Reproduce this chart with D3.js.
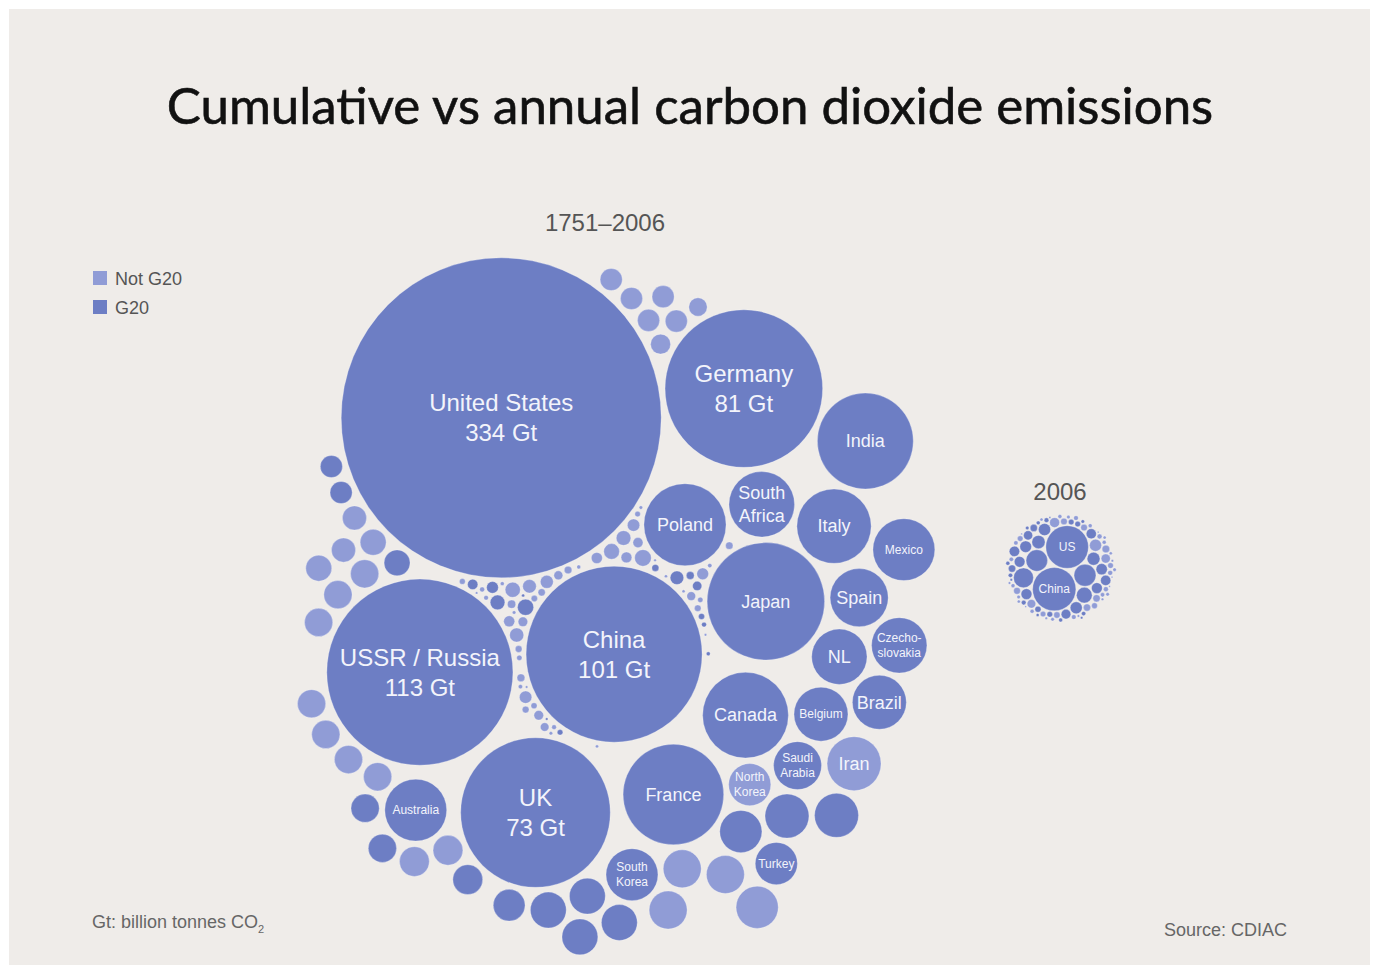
<!DOCTYPE html>
<html>
<head>
<meta charset="utf-8">
<script src="https://cdn.jsdelivr.net/npm/d3@7"></script>
<style>
  body { margin: 0; background: #ffffff; }
  text { font-family: "Liberation Sans", Arial, sans-serif; }
</style>
</head>
<body>
<div id="vis"></div>
<script>
const FRAME_WIDTH = 1376;
const FRAME_HEIGHT = 967;

// cumulative 1751-2006, the labelled countries (Gt CO2)
const bigNames = ["United States", "USSR / Russia", "China", "Germany", "UK", "Japan", "France", "India",
  "Canada", "Poland", "Italy", "South Africa", "Mexico", "Australia", "Spain", "Czechoslovakia", "NL",
  "Brazil", "Belgium", "Iran", "South Korea", "Saudi Arabia", "North Korea", "Turkey"];
const bigLabels = ["United States", "USSR / Russia", "China", "Germany", "UK", "Japan", "France", "India",
  "Canada", "Poland", "Italy", "South\nAfrica", "Mexico", "Australia", "Spain", "Czecho-\nslovakia", "NL",
  "Brazil", "Belgium", "Iran", "South\nKorea", "Saudi\nArabia", "North\nKorea", "Turkey"];
const bigValues = [334, 113, 101, 81, 73, 45, 33, 30, 24, 22, 18, 14, 12.5, 12.5, 11, 10, 10, 9.5, 9.5, 9.5, 8.8, 7.5, 5.8, 5.8];
const bigG20 = [1, 1, 1, 1, 1, 1, 1, 1, 1, 1, 1, 1, 1, 1, 1, 1, 1, 1, 1, 0, 1, 1, 0, 1];

// order the core bubbles are handed to d3.packSiblings
const packOrder = ["China", "UK", "USSR / Russia", "France", "Canada", "South Korea", "United States", "Australia", "Japan"];

// the unlabelled bubbles, sizes
const otherValues = [
  6.3, 6.3, 5.8, 4.2, 4.2, 4.2, 4.2, 3.3, 2.9, 2.6, 2.6, 2.2, 1.6, 1.6,
  5.8, 4.7, 4.7, 4.7, 2.9, 2.9, 2.6, 2.6, 2.6, 2.6, 2.6, 2.6, 2.6, 2.2, 2.2, 1.9, 1.9, 1.6, 1.6, 1.6, 1.6, 1.6, 1.3, 1.1,
  0.9, 0.85, 0.8, 0.75, 0.7, 0.7, 0.65, 0.6, 0.6, 0.55, 0.5, 0.5, 0.45, 0.45, 0.4, 0.4, 0.38, 0.35, 0.33, 0.3,
  0.3, 0.28, 0.26, 0.25, 0.24, 0.22, 0.2, 0.2, 0.19, 0.18, 0.17, 0.16, 0.15, 0.15, 0.14, 0.13, 0.12, 0.12,
  0.11, 0.1, 0.1, 0.09, 0.09, 0.08, 0.08, 0.07, 0.07, 0.06, 0.06, 0.05, 0.05, 0.05, 0.04, 0.04, 0.04,
  0.03, 0.03, 0.03, 0.03, 0.02, 0.02, 0.02, 0.02, 0.02];
const otherG20 = [
  1, 1, 1, 1, 1, 1, 1, 1, 1, 1, 1, 1, 1, 1,
  0, 0, 0, 0, 0, 0, 0, 0, 0, 0, 0, 0, 0, 0, 0, 0, 0, 0, 0, 0, 0, 0, 0, 0,
  0, 1, 0, 0, 1, 0, 0, 0, 1, 0, 0, 0, 1, 0, 0, 0, 0, 1, 0, 0,
  0, 1, 0, 0, 0, 0, 1, 0, 0, 0, 0, 1, 0, 0, 0, 0, 1, 0,
  0, 0, 1, 0, 0, 0, 1, 0, 0, 0, 0, 0, 1, 0, 0, 0, 0,
  0, 1, 0, 0, 0, 0, 1, 0, 0];

// annual 2006 (Gt CO2); only the first two are labelled
const annualNames = ["China", "US"];
const annualValues = [6.1, 5.9, 1.56, 1.5, 1.29, 0.8, 0.57, 0.54, 0.48, 0.47, 0.47, 0.44, 0.41, 0.38, 0.38, 0.37,
  0.35, 0.34, 0.33, 0.32, 0.30, 0.27, 0.27, 0.24, 0.19, 0.17, 0.17, 0.17, 0.17, 0.15, 0.14, 0.14, 0.13, 0.12,
  0.11, 0.10, 0.10, 0.10, 0.10, 0.10, 0.10, 0.08, 0.08, 0.08, 0.07, 0.07, 0.07, 0.07, 0.06, 0.06, 0.06, 0.06,
  0.06, 0.05, 0.05, 0.05, 0.05, 0.05, 0.05, 0.05, 0.05, 0.04, 0.04, 0.04, 0.04, 0.04, 0.04, 0.04, 0.03, 0.03,
  0.03, 0.03, 0.03, 0.02, 0.02, 0.02, 0.02, 0.02, 0.02, 0.02, 0.01, 0.01, 0.01, 0.01, 0.01, 0.01];
const annualG20 = [1, 1, 1, 1, 1, 1, 1, 1, 1, 0, 1, 1, 1, 1, 1, 1,
  1, 1, 1, 0, 1, 1, 0, 0, 0, 1, 0, 0, 1, 0, 0, 0, 0, 1,
  0, 1, 1, 1, 0, 0, 0, 0, 0, 0, 1, 0, 0, 1, 0, 0, 0, 1,
  1, 1, 1, 0, 0, 0, 0, 0, 1, 0, 0, 0, 1, 0, 0, 1, 0, 0,
  0, 1, 0, 0, 1, 0, 0, 0, 1, 0, 0, 0, 1, 0, 0, 0];

const legendLabels = ["Not G20", "G20"];

const DARK = "#6d7ec4";
const LIGHT = "#909cd6";

const SVG = d3.select("#vis")
  .append("svg")
  .attr("width", FRAME_WIDTH)
  .attr("height", FRAME_HEIGHT);

// beige panel
SVG.append("rect")
  .attr("x", 9).attr("y", 9)
  .attr("width", 1361).attr("height", 956)
  .attr("fill", "#efece9");

const R_SCALE = d3.scaleSqrt().domain([0, 334]).range([0, 160]);
const COLOR = d3.scaleOrdinal().domain([0, 1]).range([LIGHT, DARK]);

const toRad = a => a * Math.PI / 180;
const angDiff = (a, b) => Math.abs(Math.atan2(Math.sin(a - b), Math.cos(a - b)));

// turn (and if needed mirror) a cluster so node i -> node j points along angleIJ,
// then put its enclosing circle at cx, cy
function orient(nodes, i, j, angleIJ, k, angleIK, cx, cy) {
  const ox = nodes[i].x, oy = nodes[i].y;
  const rot = toRad(angleIJ) - Math.atan2(nodes[j].y - oy, nodes[j].x - ox);
  nodes.forEach(d => {
    const x = d.x - ox, y = d.y - oy;
    d.x = x * Math.cos(rot) - y * Math.sin(rot);
    d.y = x * Math.sin(rot) + y * Math.cos(rot);
  });
  if (k != null) {
    const a0 = toRad(angleIJ);
    const cur = Math.atan2(nodes[k].y, nodes[k].x);
    if (angDiff(2 * a0 - cur, toRad(angleIK)) < angDiff(cur, toRad(angleIK))) {
      nodes.forEach(d => {
        const ang = 2 * a0 - Math.atan2(d.y, d.x);
        const len = Math.hypot(d.x, d.y);
        d.x = len * Math.cos(ang); d.y = len * Math.sin(ang);
      });
    }
  }
  nodes.forEach(d => d.r = d.rad);
  const e = d3.packEnclose(nodes);
  nodes.forEach(d => { d.x += cx - e.x; d.y += cy - e.y; });
}

// main cluster: core bubbles through d3.packSiblings, the rest settle round them with a force run
const mainNodes = bigValues.map((v, i) => ({value: v, g20: bigG20[i], name: bigNames[i], label: bigLabels[i]}))
  .concat(otherValues.map((v, i) => ({value: v, g20: otherG20[i], name: "", label: ""})));
mainNodes.forEach(d => d.rad = R_SCALE(d.value));
const idx = n => mainNodes.findIndex(d => d.name === n);

const MAIN_PAD = 7;
const core = packOrder.map(n => mainNodes[idx(n)]);
core.forEach(d => d.r = d.rad + MAIN_PAD);
d3.packSiblings(core);
const coreBox = d3.packEnclose(core);
core.forEach(d => { d.fx = d.x; d.fy = d.y; });

// gravity sits on the first core bubble
const pull = {x: core[0].x, y: core[0].y};

// medium bubbles drop in from a ring outside, biggest first, swept once round;
// crumbs start in the middle and get pushed into the gaps
const mediums = mainNodes.filter(d => d.fx === undefined && d.value >= 1)
  .sort((a, b) => d3.descending(a.value, b.value));
mediums.forEach((d, i) => {
  const a = Math.PI + i * 2 * Math.PI / mediums.length;
  d.x = pull.x + (coreBox.r + 220) * Math.cos(a);
  d.y = pull.y + (coreBox.r + 220) * Math.sin(a);
});

d3.forceSimulation(mainNodes)
  .force("x", d3.forceX(pull.x).strength(0.05))
  .force("y", d3.forceY(pull.y).strength(0.05))
  .force("collide", d3.forceCollide(d => d.rad + (d.value >= 1 ? 2.8 : 1.4)).strength(1).iterations(4))
  .stop()
  .tick(700);

orient(mainNodes, idx("China"), idx("UK"), 116.4, idx("USSR / Russia"), 168.8, 597, 601);

// 2006 cluster: plain packSiblings, largest first
const annualNodes = annualValues.map((v, i) => ({value: v, g20: annualG20[i], label: annualNames[i] || ""}));
annualNodes.forEach(d => { d.rad = R_SCALE(d.value); d.r = d.rad + 0.6; });
d3.packSiblings(annualNodes);
orient(annualNodes, 0, 1, -73, null, null, 1061, 568);

function drawCluster(nodes, fixedSize) {
  const g = SVG.append("g");
  g.selectAll("circle")
    .data(nodes)
    .enter()
    .append("circle")
    .attr("cx", d => d.x)
    .attr("cy", d => d.y)
    .attr("r", d => d.rad)
    .attr("fill", d => COLOR(d.g20))
    .attr("stroke", "#ffffff")
    .attr("stroke-opacity", 0.35)
    .attr("stroke-width", 0.8);

  nodes.filter(d => d.label !== "").forEach(d => {
    const lines = d.label.split("\n");
    if (d.value >= 70) lines.push(d.value + " Gt");
    let size = fixedSize;
    if (!size) {
      if (d.rad >= 70) size = 24;
      else {
        // try the bigger size, drop to the small one if it does not fit
        const probe = g.append("text").attr("font-size", 18);
        let w = 0;
        lines.forEach(l => { probe.text(l); w = Math.max(w, probe.node().getComputedTextLength()); });
        probe.remove();
        size = w <= 1.8 * d.rad ? 18 : 12;
      }
    }
    const lh = size * 1.25;
    const t = g.append("text")
      .attr("text-anchor", "middle")
      .attr("font-size", size)
      .attr("fill", "#f3f4fb");
    lines.forEach((l, i) => {
      t.append("tspan")
        .attr("x", d.x)
        .attr("y", d.y + (i - (lines.length - 1) / 2) * lh + size * 0.35)
        .text(l);
    });
  });
}

drawCluster(mainNodes, 0);
drawCluster(annualNodes, 12);

// title
SVG.append("text")
  .attr("x", 690)
  .attr("y", 124)
  .attr("text-anchor", "middle")
  .attr("font-size", 51)
  .attr("fill", "#111111")
  .attr("stroke", "#111111")
  .attr("stroke-width", 0.6)
  .style("font-family", "Lato, 'Noto Sans', sans-serif")
  .text("Cumulative vs annual carbon dioxide emissions");

SVG.append("text")
  .attr("x", 605).attr("y", 231)
  .attr("text-anchor", "middle")
  .attr("font-size", 24)
  .attr("fill", "#555555")
  .text("1751–2006");

SVG.append("text")
  .attr("x", 1060).attr("y", 500)
  .attr("text-anchor", "middle")
  .attr("font-size", 24)
  .attr("fill", "#555555")
  .text("2006");

// legend
const legend = SVG.selectAll(".legend")
  .data(legendLabels)
  .enter()
  .append("g")
  .attr("transform", (d, i) => "translate(93," + (271 + i * 29) + ")");
legend.append("rect")
  .attr("width", 14).attr("height", 14)
  .attr("fill", (d, i) => COLOR(i));
legend.append("text")
  .attr("x", 22).attr("y", 14)
  .attr("font-size", 18)
  .attr("fill", "#555555")
  .text(d => d);

// notes
const note = SVG.append("text")
  .attr("x", 92).attr("y", 928)
  .attr("font-size", 18)
  .attr("fill", "#666666")
  .text("Gt: billion tonnes CO");
note.append("tspan")
  .attr("font-size", 11)
  .attr("dy", 5)
  .text("2");

SVG.append("text")
  .attr("x", 1287).attr("y", 936)
  .attr("text-anchor", "end")
  .attr("font-size", 18)
  .attr("fill", "#666666")
  .text("Source: CDIAC");
</script>
</body>
</html>
